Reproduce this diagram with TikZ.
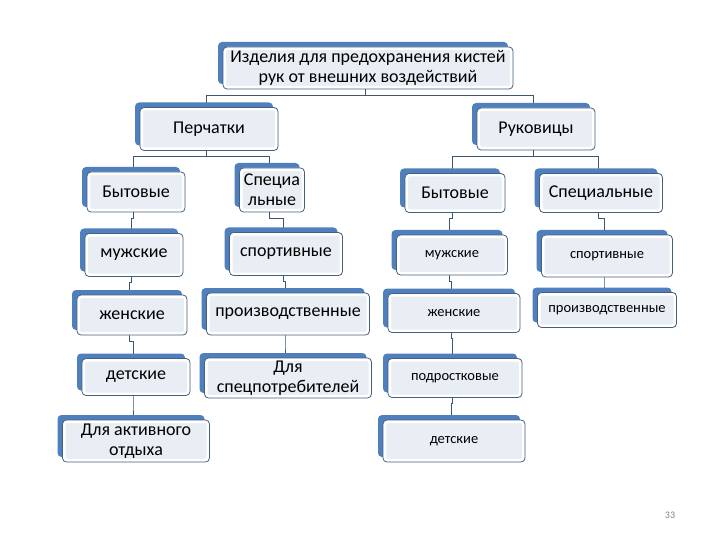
\documentclass[tikz,border=0pt]{standalone}
\usepackage{fontspec}
\setmainfont{Carlito}
\usetikzlibrary{shadows,backgrounds}
\definecolor{tabblue}{HTML}{4F7FBC}
\definecolor{boxline}{HTML}{44607F}
\definecolor{boxfill}{HTML}{E9EEF4}
\definecolor{linkline}{HTML}{3F5671}
\begin{document}
\begin{tikzpicture}[x=1pt,y=-1pt,
	item/.style={draw=boxline, line width=0.8pt, fill=boxfill, rounded corners=4pt,
		inner sep=0pt, align=center, font=\fontsize{18}{20}\selectfont,
		copy shadow={shadow xshift=-5pt, shadow yshift=5pt, fill=tabblue, draw=none},
		path picture={\draw[white, line width=6pt] (path picture bounding box.south west) rectangle (path picture bounding box.north east);}},
	small/.style={font=\fontsize{14.5}{17}\selectfont},
	wh/.style 2 args={minimum width=#1pt, minimum height=#2pt},
	link/.style={draw=linkline, line width=1pt,
		to path={([xshift=-3pt]\tikztostart.south) -- ++(0pt,-6pt) -| ([xshift=-3pt]\tikztotarget.north)}}]
	\useasboundingbox (0,0) rectangle (720,540);

	% top and the two groups
	\node[item, wh={290}{42}] (top) at (368,68) {Изделия для предохранения кистей\\рук от внешних воздействий};
	\node[item, wh={138}{43}] (gloves) at (209,129) {Перчатки};
	\node[item, wh={118}{42}] (mitts) at (536,129) {Руковицы};

	% gloves
	\node[item, wh={98}{40}] (gl-home) at (136,192) {Бытовые};
	\node[item, wh={65}{44}] (gl-spec) at (272,190) {Специа\\льные};
	\node[item, wh={98}{43}] (gl-men) at (134,255) {мужские};
	\node[item, wh={113}{43}] (gl-sport) at (286,254) {спортивные};
	\node[item, wh={110}{40}] (gl-women) at (132,315) {женские};
	\node[item, wh={163}{42}] (gl-work) at (288,314) {производственные};
	\node[item, wh={108}{37}] (gl-kids) at (136,377) {детские};
	\node[item, wh={167}{40}] (gl-consumer) at (288,378) {Для\\спецпотребителей};
	\node[item, wh={147}{42}] (gl-active) at (136,441) {Для активного\\отдыха};

	% mittens
	\node[item, wh={100}{39}] (mt-home) at (455,193) {Бытовые};
	\node[item, wh={123}{39}] (mt-spec) at (601,193) {Специальные};
	\node[item, small, wh={111}{40}] (mt-men) at (452,255) {мужские};
	\node[item, small, wh={131}{42}] (mt-sport) at (607,256) {спортивные};
	\node[item, small, wh={132}{39}] (mt-women) at (454,313) {женские};
	\node[item, small, wh={139}{35}] (mt-work) at (607,310) {производственные};
	\node[item, small, wh={134}{39}] (mt-teen) at (455,378) {подростковые};
	\node[item, small, wh={142}{42}] (mt-kids) at (454,441) {детские};

	\node[text=gray, font=\fontsize{10}{12}\selectfont] (pagenum) at (670,515) {33};

	\begin{scope}[on background layer]
	  \draw[link] (top) to (gloves) (top) to (mitts);
	  \draw[link] (gloves) to (gl-home) (gloves) to (gl-spec);
	  \draw[link] (gl-home) to (gl-men) (gl-men) to (gl-women)
	    (gl-women) to (gl-kids) (gl-kids) to (gl-active);
	  \draw[link] (gl-spec) to (gl-sport) (gl-sport) to (gl-work)
	    (gl-work) to (gl-consumer);
	  \draw[link] (mitts) to (mt-home) (mitts) to (mt-spec);
	  \draw[link] (mt-home) to (mt-men) (mt-men) to (mt-women)
	    (mt-women) to (mt-teen) (mt-teen) to (mt-kids);
	  \draw[link] (mt-spec) to (mt-sport) (mt-sport) to (mt-work);
	\end{scope}
\end{tikzpicture}
\end{document}
